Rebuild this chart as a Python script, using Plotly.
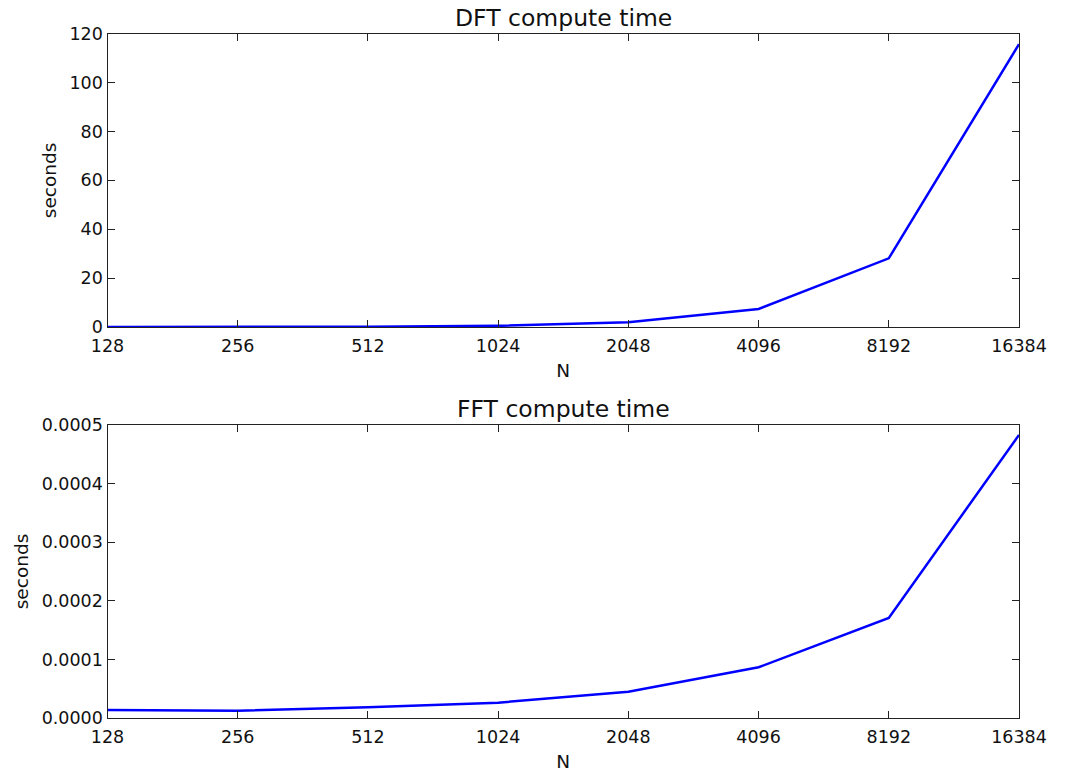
import plotly.graph_objects as go
from plotly.subplots import make_subplots

# Transform sizes (evenly spaced categories on the x axis)
sizes = ["128", "256", "512", "1024", "2048", "4096", "8192", "16384"]

# Measured compute times in seconds
dft_seconds = [0.008, 0.03, 0.12, 0.47, 1.9, 7.4, 28.1, 115.7]
fft_seconds = [0.0000141, 0.0000130, 0.0000187, 0.0000266,
               0.0000453, 0.0000869, 0.0001709, 0.0004826]

titles = ["DFT compute time", "FFT compute time"]

FONT = "DejaVu Sans"
BLUE = "#0000ff"

fig = make_subplots(rows=2, cols=1)

fig.add_trace(go.Scatter(x=sizes, y=dft_seconds, mode="lines",
                         line=dict(color=BLUE, width=2.5), showlegend=False),
              row=1, col=1)
fig.add_trace(go.Scatter(x=sizes, y=fft_seconds, mode="lines",
                         line=dict(color=BLUE, width=2.5), showlegend=False),
              row=2, col=1)

x_dom = [107.5 / 1068, 1019 / 1068]
H = 773.0
top_dom = [(H - 327) / H, (H - 33.7) / H]
bot_dom = [(H - 718.3) / H, (H - 424.7) / H]

axis_common = dict(
    showline=True, linecolor="#222222", linewidth=1.2, mirror="allticks",
    ticks="inside", ticklen=7, tickwidth=1, tickcolor="#222222",
    showgrid=False, zeroline=False, automargin=False,
    tickfont=dict(family=FONT, size=17.5, color="#111111"),
)

for i, dom in ((1, top_dom), (2, bot_dom)):
    fig.update_xaxes(
        type="category", range=[0, len(sizes) - 1], domain=x_dom,
        ticklabelstandoff=3,
        title=dict(text="N", font=dict(family=FONT, size=18.5, color="#111111"),
                   standoff=8),
        **axis_common, row=i, col=1)
    fig.update_yaxes(domain=dom,
                     title=dict(text="seconds",
                                font=dict(family=FONT, size=18.5, color="#111111"),
                                standoff=8),
                     **axis_common, row=i, col=1)

fig.update_yaxes(range=[0, 120], dtick=20, tick0=0, row=1, col=1)
fig.update_yaxes(range=[0, 0.0005], dtick=0.0001, tick0=0, tickformat=".4f",
                 row=2, col=1)

# Subplot titles centred over each panel
cx = (x_dom[0] + x_dom[1]) / 2
for title, ypix in zip(titles, (18, 409)):
    fig.add_annotation(text=title, x=cx, xref="paper", y=(H - ypix) / H,
                       yref="paper", showarrow=False, xanchor="center",
                       yanchor="middle",
                       font=dict(family=FONT, size=23.5, color="#111111"))

fig.update_layout(
    width=1068, height=773,
    margin=dict(l=0, r=0, t=0, b=0),
    paper_bgcolor="white", plot_bgcolor="white",
)

fig.write_html("out.html")
